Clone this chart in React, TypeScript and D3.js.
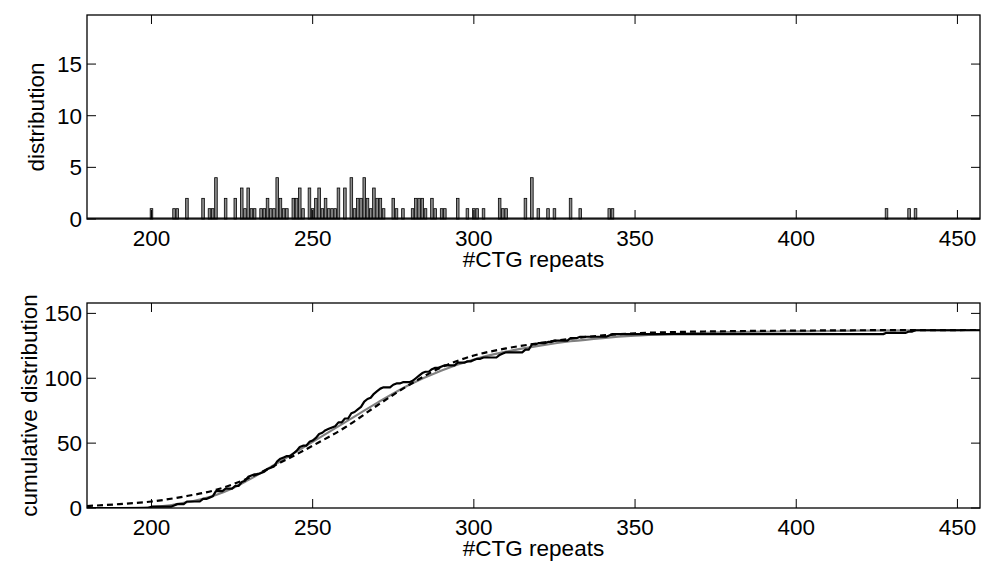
import React from "react";
import * as d3 from "d3";

// Histogram: #CTG repeat value and its count
const repeatValues = [200,207,208,211,216,218,219,220,223,226,228,229,230,231,232,234,235,236,237,238,239,240,241,242,244,245,246,247,249,250,251,252,253,254,255,256,257,258,260,262,263,264,265,266,267,268,269,270,271,272,275,276,278,281,282,283,284,285,287,288,290,291,295,298,300,301,303,308,309,310,316,318,320,323,325,330,333,342,343,428,435,437];
const repeatCounts = [1,1,1,2,2,1,1,4,2,2,3,1,3,1,1,1,1,2,1,1,4,2,1,1,2,2,3,1,3,1,2,3,1,2,1,1,1,3,3,4,1,2,2,4,2,1,3,2,2,1,2,1,1,1,2,2,2,1,2,1,1,1,2,1,1,1,1,2,1,1,2,4,1,1,1,2,1,1,1,1,1,1];

// Gray fitted cumulative curve
const grayX = [180,190,195,200,205,210,215,220,225,230,240,250,260,270,280,290,300,310,320,330,340,350,360,380,400,420,440,457];
const grayY = [0,0,0.1,0.6,1.8,4,6.5,10,15,21.5,36,51,66,81,95,106,114.5,120.5,125,128.5,131,132.8,134,135.5,136.2,136.7,137,137.2];

// Dashed fitted cumulative curve
const dashX = [180,190,200,210,220,230,240,250,260,270,280,290,300,310,320,330,340,350,360,380,400,420,440,457];
const dashY = [1.5,3,5,8.8,14,23,35,48,62,79,95,108.5,117.5,123,127,130.5,133,134.7,135.5,136.3,136.7,137,137.1,137.2];

const xTicks = [200,250,300,350,400,450];
const topYTicks = [0,5,10,15];
const botYTicks = [0,50,100,150];

const W = 983, H = 561;
const L = 87, R = 980;
const FONT = "'Liberation Sans', Arial, Helvetica, sans-serif";
const FS = 22.5;
const TICK = 9;

function Frame({ y0, y1, yScale, yTicks, x }: any) {
  return (
    <g>
      <rect x={L} y={y0} width={R - L} height={y1 - y0} fill="none" stroke="#000" strokeWidth={1.3} />
      {xTicks.map((t) => (
        <g key={"x" + t}>
          <line x1={x(t)} x2={x(t)} y1={y1} y2={y1 - TICK} stroke="#000" strokeWidth={1} />
          <line x1={x(t)} x2={x(t)} y1={y0} y2={y0 + TICK} stroke="#000" strokeWidth={1} />
          <text x={x(t)} y={y1 + 27} textAnchor="middle" fontFamily={FONT} fontSize={FS}>{t}</text>
        </g>
      ))}
      {yTicks.map((t: number) => (
        <g key={"y" + t}>
          <line x1={L} x2={L + TICK} y1={yScale(t)} y2={yScale(t)} stroke="#000" strokeWidth={1} />
          <line x1={R} x2={R - TICK} y1={yScale(t)} y2={yScale(t)} stroke="#000" strokeWidth={1} />
          <text x={82} y={yScale(t) + 8} textAnchor="end" fontFamily={FONT} fontSize={FS}>{t}</text>
        </g>
      ))}
      <text x={(L + R) / 2} y={y1 + 48} textAnchor="middle" fontFamily={FONT} fontSize={FS}>#CTG repeats</text>
    </g>
  );
}

export default function App() {
  const x = d3.scaleLinear().domain([180, 457]).range([L, R]);
  const top0 = 15, top1 = 219;
  const bot0 = 303, bot1 = 508;
  const yTop = d3.scaleLinear().domain([0, 19.75]).range([top1, top0]);
  const yBot = d3.scaleLinear().domain([0, 158]).range([bot1, bot0]);

  const countMap = new Map<number, number>();
  repeatValues.forEach((v, i) => countMap.set(v, repeatCounts[i]));
  let acc = 0;
  const cum: [number, number][] = d3.range(180, 458).map((v) => {
    acc += countMap.get(v) || 0;
    return [v, acc];
  });

  const line = d3.line<[number, number]>().x((d) => x(d[0])).y((d) => yBot(d[1]));
  const smooth = d3.line<[number, number]>().x((d) => x(d[0])).y((d) => yBot(d[1])).curve(d3.curveMonotoneX);
  const grayPts: [number, number][] = grayX.map((v, i) => [v, grayY[i]]);
  const dashPts: [number, number][] = dashX.map((v, i) => [v, dashY[i]]);

  return (
    <svg width={W} height={H} style={{ position: "absolute", left: 0, top: 0, background: "#fff" }}>
      <rect x={0} y={0} width={W} height={H} fill="#fff" />
      {/* top histogram */}
      <g>
        {repeatValues.map((v, i) => (
          <rect
            key={v}
            x={x(v - 0.4)}
            y={yTop(repeatCounts[i])}
            width={x(v + 0.4) - x(v - 0.4)}
            height={yTop(0) - yTop(repeatCounts[i])}
            fill="#8c8c8c"
            stroke="#000"
            strokeWidth={0.8}
          />
        ))}
        <line x1={L} x2={R} y1={top1 - 0.8} y2={top1 - 0.8} stroke="#000" strokeWidth={1.2} />
      </g>
      <Frame y0={top0} y1={top1} yScale={yTop} yTicks={topYTicks} x={x} />
      <text transform={`translate(44,${(top0 + top1) / 2}) rotate(-90)`} textAnchor="middle" fontFamily={FONT} fontSize={FS}>distribution</text>

      {/* bottom cumulative */}
      <defs>
        <clipPath id="botclip">
          <rect x={L} y={bot0} width={R - L} height={bot1 - bot0} />
        </clipPath>
      </defs>
      <g clipPath="url(#botclip)">
        <path d={smooth(grayPts) || ""} fill="none" stroke="#808080" strokeWidth={2.2} />
        <path d={line(cum) || ""} fill="none" stroke="#000" strokeWidth={2.2} strokeLinejoin="round" />
        <path d={smooth(dashPts) || ""} fill="none" stroke="#000" strokeWidth={2.2} strokeDasharray="6,4" />
      </g>
      <Frame y0={bot0} y1={bot1} yScale={yBot} yTicks={botYTicks} x={x} />
      <text transform={`translate(37,${(bot0 + bot1) / 2}) rotate(-90)`} textAnchor="middle" fontFamily={FONT} fontSize={FS}>cumulative distribution</text>
    </svg>
  );
}
